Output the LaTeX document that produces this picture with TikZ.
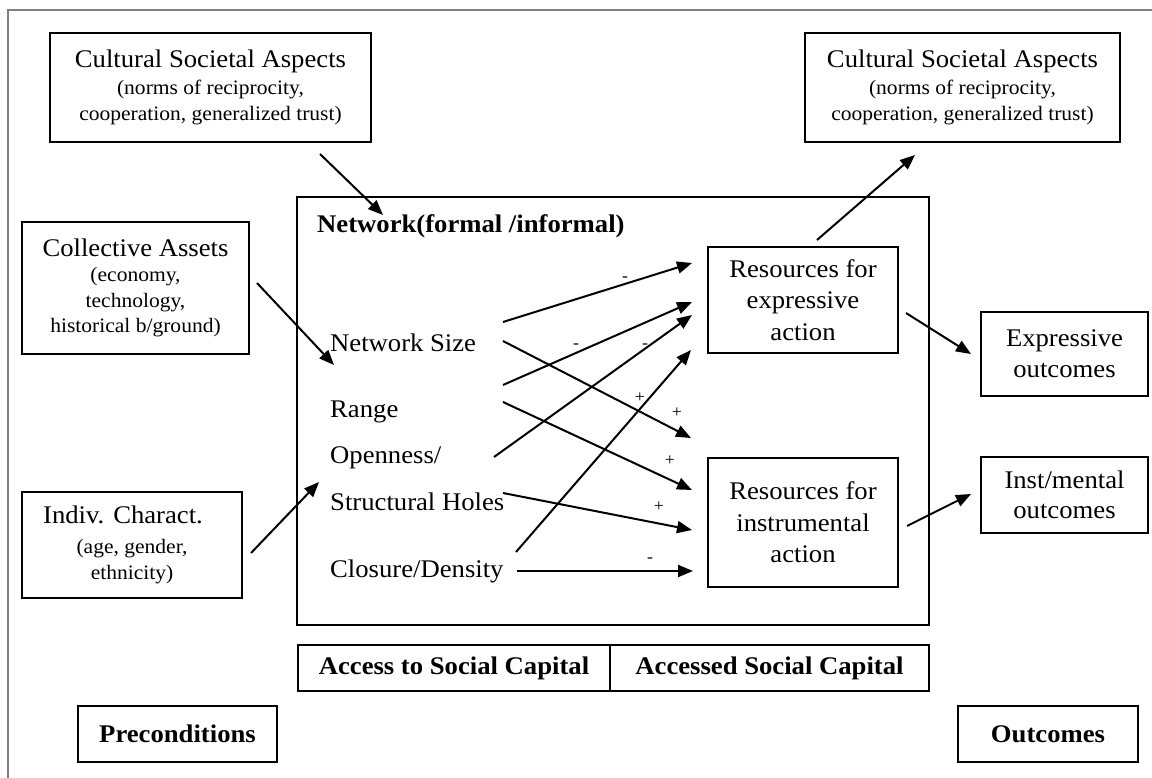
\documentclass[tikz,border=0pt]{standalone}
\usepackage{fontspec}
\setmainfont{Liberation Serif}[FakeStretch=1.05]
\usetikzlibrary{arrows.meta}
\newcommand\fmain{\fontsize{25.4}{26}\selectfont}
\newcommand\fsub{\fontsize{20.5}{26.5}\selectfont}
\newcommand\fsign{\fontsize{17}{17}\selectfont}
\definecolor{framec}{HTML}{808080}
\begin{document}
\begin{tikzpicture}[x=1pt,y=-1pt,
  box/.style={draw=black, line width=1.6pt, inner sep=0pt, align=center},
  arr/.style={line width=2pt, -{Triangle[length=15pt,width=12pt]}},
  item/.style={anchor=base west, inner sep=0pt, font=\fmain},
  sign/.style={inner sep=0pt, font=\fsign}]
\useasboundingbox (0,0) rectangle (1152,778);
\fill[white] (0,0) rectangle (1152,778);
\draw[framec, line width=2pt] (8,10) rectangle (1175,800);

% left column
\node[box, minimum width=321pt, minimum height=109pt, font=\fsub] (cultL) at (210.5,87.5)
  {{\fmain Cultural Societal Aspects}\\(norms of reciprocity,\\cooperation, generalized trust)};
\node[box, minimum width=227pt, minimum height=132pt, font=\fontsize{20.5}{25.5}\selectfont] (coll) at (135.5,288)
  {{\fmain Collective Assets}\\(economy,\\technology,\\historical b/ground)};
\node[box, minimum width=220pt, minimum height=106pt, font=\fsub] (indiv) at (132,545)
  {{\fmain Indiv. Charact.}\hspace*{18pt}\\[3pt](age, gender,\\ethnicity)};

% network box
\node[box, minimum width=632pt, minimum height=428pt] (net) at (613,411) {};
\node[anchor=base west, inner sep=0pt, font=\fmain\bfseries] (nettitle) at (317,233) {Network(formal /informal)};
\node[item] (nsize) at (330,352) {Network Size};
\node[item] (range) at (330,417) {Range};
\node[item] (open) at (330,463) {Openness/};
\node[item] (holes) at (330,510) {Structural Holes};
\node[item] (closure) at (330,577) {Closure/Density};

% resources
\node[box, minimum width=190pt, minimum height=106pt, font=\fontsize{25.4}{31.5}\selectfont] (resE) at (803,300)
  {Resources for\\expressive\\action};
\node[box, minimum width=190pt, minimum height=129pt, font=\fontsize{25.4}{31.5}\selectfont] (resI) at (803,522.5)
  {Resources for\\instrumental\\action};

% right column
\node[box, minimum width=315pt, minimum height=109pt, font=\fsub] (cultR) at (962.5,87.5)
  {{\fmain Cultural Societal Aspects}\\(norms of reciprocity,\\cooperation, generalized trust)};
\node[box, minimum width=167pt, minimum height=84pt, font=\fontsize{25.4}{31}\selectfont] (outE) at (1064.5,354)
  {Expressive\\outcomes};
\node[box, minimum width=167pt, minimum height=76pt, font=\fontsize{25.4}{30}\selectfont] (outI) at (1064.5,495)
  {Inst/mental\\outcomes};

% bottom bar
\node[box, minimum width=312pt, minimum height=46pt, font=\fmain\bfseries] (access) at (454,668) {Access to Social Capital};
\node[box, minimum width=319pt, minimum height=46pt, font=\fmain\bfseries] (accessed) at (769.5,668) {Accessed Social Capital};
\node[box, minimum width=199pt, minimum height=56pt, font=\fmain\bfseries] (pre) at (177.5,734) {Preconditions};
\node[box, minimum width=180pt, minimum height=56pt, font=\fmain\bfseries] (outc) at (1048,734) {Outcomes};

% coordinates for connector ends
\coordinate (cLs) at (320,154);   \coordinate (cLe) at (383,215);
\coordinate (cos) at (257,283);   \coordinate (coe) at (334,365);
\coordinate (ins) at (251,553);   \coordinate (ine) at (319,482);
\coordinate (a1s) at (503,322);   \coordinate (a1e) at (692,263);
\coordinate (b1s) at (503,341);   \coordinate (b1e) at (691,438);
\coordinate (a2s) at (503,385);   \coordinate (a2e) at (692,302);
\coordinate (b2s) at (503,402);   \coordinate (b2e) at (692,490);
\coordinate (a3s) at (494,457);   \coordinate (a3e) at (692,315);
\coordinate (b3s) at (503,493);   \coordinate (b3e) at (692,530);
\coordinate (a4s) at (516,552);   \coordinate (a4e) at (691,350);
\coordinate (ccs) at (517,571);   \coordinate (cce) at (693,571);
\coordinate (rEs) at (817,240);   \coordinate (rEe) at (915,155);
\coordinate (oEs) at (906,313);   \coordinate (oEe) at (971,354);
\coordinate (oIs) at (907,526);   \coordinate (oIe) at (971,494);

% connectors
\draw[arr] (cLs) -- (cLe);
\draw[arr] (cos) -- (coe);
\draw[arr] (ins) -- (ine);
\draw[arr] (a1s) -- (a1e);
\draw[arr] (b1s) -- (b1e);
\draw[arr] (a2s) -- (a2e);
\draw[arr] (b2s) -- (b2e);
\draw[arr] (a3s) -- (a3e);
\draw[arr] (b3s) -- (b3e);
\draw[arr] (a4s) -- (a4e);
\draw[arr] (ccs) -- (cce);
\draw[arr] (rEs) -- (rEe);
\draw[arr] (oEs) -- (oEe);
\draw[arr] (oIs) -- (oIe);

% signs
\node[sign] (s1) at (625,279) {-};
\node[sign] (s2) at (576,346) {-};
\node[sign] (s3) at (645,346) {-};
\node[sign] (s4) at (640,398) {+};
\node[sign] (s5) at (677,413) {+};
\node[sign] (s6) at (670,461) {+};
\node[sign] (s7) at (659,507) {+};
\node[sign] (s8) at (650,560) {-};
\end{tikzpicture}
\end{document}
